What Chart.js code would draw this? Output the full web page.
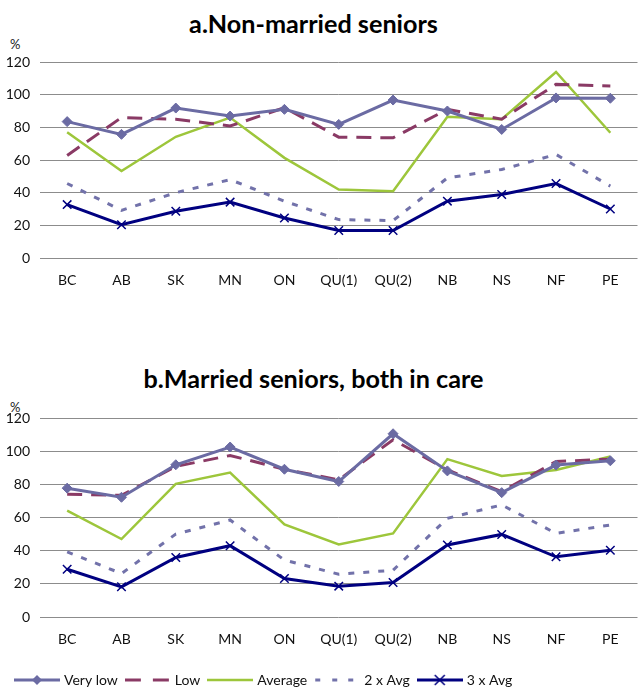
<!DOCTYPE html>
<html>
<head>
<meta charset="utf-8">
<script src="https://cdn.jsdelivr.net/npm/chart.js@4.4.1/dist/chart.umd.min.js"></script>
<style>
  body { margin: 0; width: 639px; height: 689px; overflow: hidden; background: #fff; position: relative; font-family: Lato, sans-serif; }
  .title { position: absolute; left: -6px; width: 639px; text-align: center; font-weight: bold; font-size: 21px; line-height: 1; color: #000; white-space: nowrap; }
  .pct { position: absolute; left: 10px; font-size: 13px; color: #222; }
  canvas { position: absolute; left: 0; }
</style>
</head>
<body>
<div class="title" id="titleA" style="top:11px">a.Non-married seniors</div>
<div class="pct" style="top:36px">%</div>
<div class="title" id="titleB" style="top:366px">b.Married seniors, both in care</div>
<div class="pct" style="top:399px">%</div>
<canvas id="chartA" width="645" height="300" style="top:0"></canvas>
<canvas id="chartB" width="645" height="341" style="top:356px"></canvas>
<script>
const categories = ['BC', 'AB', 'SK', 'MN', 'ON', 'QU(1)', 'QU(2)', 'NB', 'NS', 'NF', 'PE'];
const seriesNames = ['Very low', 'Low', 'Average', '2 x Avg', '3 x Avg'];
const yTicks = [0, 20, 40, 60, 80, 100, 120];

// a. Non-married seniors
const nonMarriedVeryLow = [83.5, 75.7, 91.8, 86.9, 91, 81.8, 96.7, 90, 78.7, 98, 97.8];
const nonMarriedLow     = [62.8, 86, 85, 80.8, 92, 74, 73.6, 91, 85, 106.3, 105.3];
const nonMarriedAverage = [77, 53.2, 74.2, 86, 61.3, 41.9, 40.9, 86.5, 85, 113.9, 76.7];
const nonMarried2xAvg   = [45.6, 29.2, 40, 48, 34.8, 23.5, 22.9, 49, 54.2, 63.4, 44];
const nonMarried3xAvg   = [32.7, 20.4, 28.6, 34.2, 24.5, 16.8, 16.8, 34.8, 38.9, 45.6, 30];

// b. Married seniors, both in care
const marriedVeryLow = [77.7, 72.2, 91.8, 102.5, 89.1, 81.7, 110.5, 88.1, 75, 91.6, 94.2];
const marriedLow     = [74, 73.4, 90.8, 97.4, 89.1, 82.7, 106.9, 88.7, 75.6, 93.8, 95.2];
const marriedAverage = [64.1, 47, 80.3, 87.1, 55.9, 43.8, 50.4, 95.2, 85.1, 88.7, 96.8];
const married2xAvg   = [39.3, 26.2, 50, 58.5, 34.3, 25.8, 28.2, 59.5, 67.6, 50.4, 55.5];
const married3xAvg   = [28.8, 18.2, 35.9, 43, 23.2, 18.6, 20.8, 43.4, 49.8, 36.3, 40.3];

const styles = [
  { color: '#6B6BA3', width: 3, dash: [], point: 'rectRot', radius: 5 },
  { color: '#8A3A65', width: 3, dash: [15, 9], point: false, radius: 0 },
  { color: '#9DC63B', width: 2.5, dash: [], point: false, radius: 0 },
  { color: '#7272AA', width: 3, dash: [6, 9], point: false, radius: 0 },
  { color: '#000080', width: 3, dash: [], point: 'crossRot', radius: 6 }
];

// size the panel titles so they span about as wide as in the original
const probe = document.createElement('canvas').getContext('2d');
probe.font = 'bold 20px Lato';
const titleSize = 20 * 249 / probe.measureText(document.getElementById('titleA').textContent).width;
document.querySelectorAll('.title').forEach(el => { el.style.fontSize = titleSize.toFixed(1) + 'px'; });

// legend samples: short line with the series marker in the middle
function legendIcon(s) {
  const c = document.createElement('canvas');
  c.width = 46; c.height = 14;
  const g = c.getContext('2d');
  g.strokeStyle = s.color;
  g.lineWidth = s.width;
  if (s.dash.length) {
    const segs = s.dash[0] > 10 ? [[0, 16], [28, 44]] : [[1, 6], [18, 23], [34, 39]];
    segs.forEach(([a, b]) => { g.beginPath(); g.moveTo(a, 7); g.lineTo(b, 7); g.stroke(); });
  } else {
    g.beginPath(); g.moveTo(0, 7); g.lineTo(46, 7); g.stroke();
  }
  if (s.point === 'rectRot') {
    g.fillStyle = s.color;
    g.beginPath(); g.moveTo(23, 2); g.lineTo(28, 7); g.lineTo(23, 12); g.lineTo(18, 7); g.closePath(); g.fill();
  } else if (s.point === 'crossRot') {
    g.lineWidth = 1.5;
    g.beginPath(); g.moveTo(18, 2); g.lineTo(28, 12); g.moveTo(28, 2); g.lineTo(18, 12); g.stroke();
  }
  return c;
}

function makeChart(id, values, withLegend, xHeight) {
  const datasets = values.map((v, i) => {
    const s = styles[i];
    return {
      label: seriesNames[i],
      data: v,
      borderColor: s.color,
      backgroundColor: s.color,
      borderWidth: s.width,
      borderDash: s.dash,
      pointStyle: s.point,
      pointRadius: s.radius,
      pointBorderWidth: s.point === 'crossRot' ? 1.5 : 1,
      tension: 0,
      fill: false
    };
  });

  return new Chart(document.getElementById(id), {
    type: 'line',
    data: { labels: categories, datasets },
    options: {
      responsive: false,
      animation: false,
      layout: { padding: { top: 62, left: 7, right: 0, bottom: 0 } },
      scales: {
        x: {
          offset: true,
          grid: { display: false },
          border: { display: false },
          ticks: { color: '#111', font: { family: 'Lato', size: 14 }, padding: 6, maxRotation: 0 },
          afterFit: (scale) => { scale.height = xHeight; }
        },
        y: {
          min: 0,
          max: 120,
          afterBuildTicks: (scale) => { scale.ticks = yTicks.map(v => ({ value: v })); },
          grid: { color: '#8c8c8c', lineWidth: 1, drawTicks: false },
          border: { display: false },
          ticks: { color: '#111', font: { family: 'Lato', size: 14 }, padding: 10 },
          afterFit: (scale) => { scale.width = 33; }
        }
      },
      plugins: {
        tooltip: { enabled: false },
        legend: {
          display: withLegend,
          position: 'bottom',
          align: 'start',
          labels: {
            usePointStyle: true,
            pointStyleWidth: 40,
            boxHeight: 14,
            padding: 10,
            color: '#111',
            font: { family: 'Lato', size: 14 },
            generateLabels: (chart) => {
              return Chart.defaults.plugins.legend.labels.generateLabels(chart).map((item, i) => {
                item.pointStyle = legendIcon(styles[i]);
                item.lineDash = [];
                return item;
              });
            }
          }
        }
      }
    }
  });
}

makeChart('chartA', [nonMarriedVeryLow, nonMarriedLow, nonMarriedAverage, nonMarried2xAvg, nonMarried3xAvg], false, 42);
makeChart('chartB', [marriedVeryLow, marriedLow, marriedAverage, married2xAvg, married3xAvg], true, 46);
</script>
</body>
</html>
